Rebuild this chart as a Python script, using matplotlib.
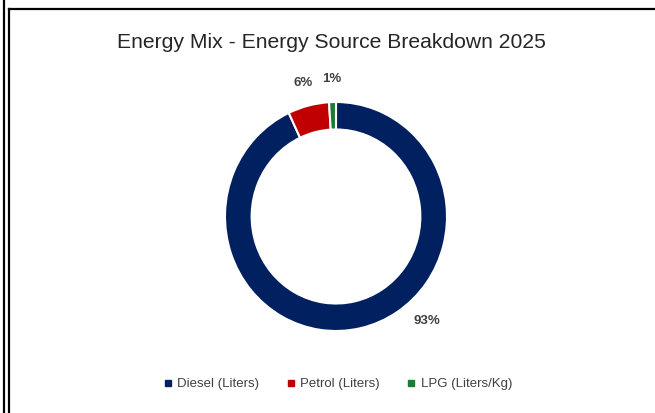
import numpy as np
import matplotlib
matplotlib.use("Agg")
import matplotlib.pyplot as plt
from matplotlib.lines import Line2D
from matplotlib import font_manager

SOURCES = ["Diesel (Liters)", "Petrol (Liters)", "LPG (Liters/Kg)"]
SHARES = [93, 6, 1]
PCT_LABELS = ["93%", "6%", "1%"]
COLORS = ["#002060", "#C00000", "#1E7B34"]
TITLE = "Energy Mix - Energy Source Breakdown 2025"

# narrow Arial-like font if available
names = {f.name for f in font_manager.fontManager.ttflist}
FONT = "Liberation Sans Narrow" if "Liberation Sans Narrow" in names else "Liberation Sans"
plt.rcParams["font.family"] = [FONT, "DejaVu Sans"]

W, H = 655, 413
fig = plt.figure(figsize=(W / 100, H / 100), dpi=100)

# frame of the screenshot
fig.add_artist(Line2D([3.5 / W, 3.5 / W], [0, 1], color="black", lw=1.6))
fig.add_artist(Line2D([8.5 / W, 8.5 / W], [0, 1 - 9 / H], color="black", lw=1.6))
fig.add_artist(Line2D([8.5 / W, 1], [1 - 9 / H, 1 - 9 / H], color="black", lw=1.6))

# donut: center (336, 216.5) px, rx 111, ry 114.5
lim = 1.3
cx, cy, rx, ry = 336, 216.5, 111, 114.5
ax = fig.add_axes([(cx - lim * rx) / W, (H - cy - lim * ry) / H,
                   2 * lim * rx / W, 2 * lim * ry / H])
wedges, _ = ax.pie(SHARES, colors=COLORS, startangle=90, counterclock=False,
                   radius=1, wedgeprops=dict(width=0.24, edgecolor="white", linewidth=1.5))
ax.set_aspect("auto")
ax.set_xlim(-lim, lim)
ax.set_ylim(-lim, lim)
ax.axis("off")

# percentage labels outside ring (Excel puts the big one at lower right)
for w, lab in zip(wedges, PCT_LABELS):
    ang = (w.theta1 + w.theta2) / 2
    r = 1.2
    if lab == "93%":
        ang, r = -48, 1.23
    ax.text(r * np.cos(np.radians(ang)), r * np.sin(np.radians(ang)), lab,
            ha="center", va="center", fontsize=9.5, fontweight="bold", color="#404040")

fig.text(331 / W, 1 - 43 / H, TITLE, ha="center", va="center", fontsize=15.2, color="#262626")

handles = [Line2D([], [], marker="s", linestyle="none", markersize=4.5,
                  markerfacecolor=c, markeredgecolor=c) for c in COLORS]
fig.legend(handles, SOURCES, loc="center", bbox_to_anchor=(338 / W, 1 - 384 / H), ncol=3,
           frameon=False, fontsize=9.5, handlelength=0.6, handletextpad=0.4,
           columnspacing=2.1, labelcolor="#404040")

fig.savefig("out.png", dpi=100, facecolor="white")
